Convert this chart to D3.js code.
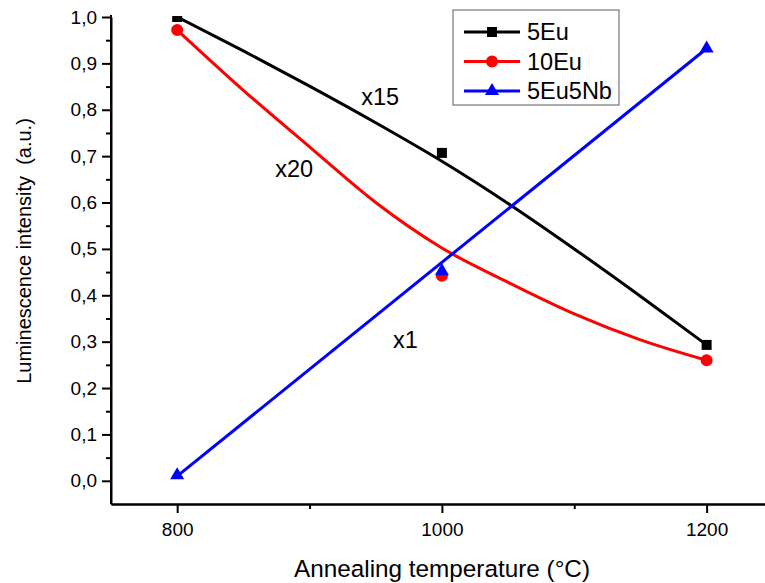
<!DOCTYPE html>
<html>
<head>
<meta charset="utf-8">
<script src="https://cdn.jsdelivr.net/npm/d3@7"></script>
<style>
  body { margin: 0; background: #fff; }
  text { font-family: Arial, "Liberation Sans", sans-serif; fill: #000; }
</style>
</head>
<body>
<div id="chart"></div>
<script>
// measured points
const temps = [800, 1000, 1200];
const eu5 = [1.0, 0.707, 0.293];
const eu10 = [0.972, 0.442, 0.26];
const eu5nb = [0.012, 0.452, 0.932];

// fitted curves
const fitTemps = [800, 850, 900, 950, 1000, 1050, 1100, 1150, 1200];
const eu5Fit = [1.0, 0.927, 0.851, 0.772, 0.689, 0.598, 0.5, 0.398, 0.293];
const eu10Fit = [0.972, 0.842, 0.72, 0.6, 0.502, 0.428, 0.36, 0.304, 0.26];
const nbFitTemps = [800, 1200];
const eu5nbFit = [0.01, 0.932];

const seriesNames = ["5Eu", "10Eu", "5Eu5Nb"];
const xTicks = [800, 1000, 1200];
const xMinorTicks = [900, 1100];
const yTicks = [0, 0.1, 0.2, 0.3, 0.4, 0.5, 0.6, 0.7, 0.8, 0.9, 1.0];
const yMinorTicks = [0.05, 0.15, 0.25, 0.35, 0.45, 0.55, 0.65, 0.75, 0.85, 0.95];

// scale factors written on the plot
const notes = [
  { text: "x15", t: 939, v: 0.81 },
  { text: "x20", t: 874, v: 0.655 },
  { text: "x1", t: 963, v: 0.286 }
];

const width = 765, height = 583;

const svg = d3
  .select("#chart")
  .append("svg")
  .attr("width", width)
  .attr("height", height);

const x = d3.scaleLinear().domain([750, 1250]).range([111, 772.8]);
const y = d3.scaleLinear().domain([-0.05, 1.0]).range([504, 17]);

const series = [
  { name: seriesNames[0], color: "#000000", symbol: d3.symbolSquare, size: 100,
    pts: temps.map((t, i) => [t, eu5[i]]), fit: fitTemps.map((t, i) => [t, eu5Fit[i]]) },
  { name: seriesNames[1], color: "#ff0000", symbol: d3.symbolCircle, size: 113,
    pts: temps.map((t, i) => [t, eu10[i]]), fit: fitTemps.map((t, i) => [t, eu10Fit[i]]) },
  { name: seriesNames[2], color: "#0000ff", symbol: d3.symbolTriangle, size: 85,
    pts: temps.map((t, i) => [t, eu5nb[i]]), fit: nbFitTemps.map((t, i) => [t, eu5nbFit[i]]) }
];

svg.append("clipPath")
  .attr("id", "plot-clip")
  .append("rect")
  .attr("x", 111)
  .attr("y", 16)
  .attr("width", width - 111)
  .attr("height", 504 - 16);

// axes
const fmt = (d) => d3.format(".1f")(d).replace(".", ",");

const yMinor = svg.append("g")
  .attr("transform", "translate(111,0)")
  .call(d3.axisLeft(y).tickValues(yMinorTicks).tickSize(5).tickSizeOuter(0).tickFormat(""));
const yMajor = svg.append("g")
  .attr("transform", "translate(111,0)")
  .call(d3.axisLeft(y).tickValues(yTicks).tickSize(9).tickSizeOuter(0).tickPadding(5).tickFormat(fmt));

const xMinor = svg.append("g")
  .attr("transform", "translate(0,504)")
  .call(d3.axisBottom(x).tickValues(xMinorTicks).tickSize(5).tickSizeOuter(0).tickFormat(""));
const xMajor = svg.append("g")
  .attr("transform", "translate(0,504)")
  .call(d3.axisBottom(x).tickValues(xTicks).tickSize(9).tickSizeOuter(0).tickPadding(10).tickFormat(d3.format("d")));

[yMinor, yMajor, xMinor, xMajor].forEach((g) => {
  g.selectAll("path, line").attr("stroke", "#000").attr("stroke-width", 2);
  g.selectAll("text")
    .style("font-family", "Arial, 'Liberation Sans', sans-serif")
    .style("font-size", "19px")
    .attr("fill", "#000");
});
yMajor.select(".domain").attr("d", "M0,504V15");

// axis titles
svg.append("text")
  .attr("x", 442)
  .attr("y", 577)
  .attr("text-anchor", "middle")
  .style("font-size", "24.3px")
  .text("Annealing temperature (\u00B0C)");

svg.append("text")
  .attr("transform", "translate(31,251) rotate(-90)")
  .attr("text-anchor", "middle")
  .style("font-size", "20px")
  .style("white-space", "pre")
  .attr("xml:space", "preserve")
  .text("Luminescence intensity  (a.u.)");

// curves and markers
const plot = svg.append("g").attr("clip-path", "url(#plot-clip)");

const line = d3.line()
  .x((d) => x(d[0]))
  .y((d) => y(d[1]))
  .curve(d3.curveMonotoneX);

series.forEach((s) => {
  plot.append("path")
    .datum(s.fit)
    .attr("fill", "none")
    .attr("stroke", s.color)
    .attr("stroke-width", 3)
    .attr("d", line);

  plot.selectAll(null)
    .data(s.pts)
    .enter()
    .append("path")
    .attr("transform", (d) => `translate(${x(d[0])},${y(d[1])})`)
    .attr("d", d3.symbol().type(s.symbol).size(s.size))
    .attr("fill", s.color);
});

// notes
svg.selectAll(".note")
  .data(notes)
  .enter()
  .append("text")
  .attr("class", "note")
  .attr("x", (d) => x(d.t))
  .attr("y", (d) => y(d.v))
  .style("font-size", "23.5px")
  .text((d) => d.text);

// legend
const legend = svg.append("g").attr("transform", "translate(453,10)");
legend.append("rect")
  .attr("width", 166)
  .attr("height", 95)
  .attr("fill", "#fff")
  .attr("stroke", "#777")
  .attr("stroke-width", 1.2);

const item = legend.selectAll(".item")
  .data(series)
  .enter()
  .append("g")
  .attr("transform", (d, i) => `translate(0,${22 + i * 29.5})`);

item.append("line")
  .attr("x1", 11)
  .attr("x2", 67)
  .attr("stroke", (d) => d.color)
  .attr("stroke-width", 3);

item.append("path")
  .attr("transform", "translate(39,0)")
  .attr("d", (d) => d3.symbol().type(d.symbol).size(d.size)())
  .attr("fill", (d) => d.color);

item.append("text")
  .attr("x", 74)
  .attr("dy", "0.36em")
  .style("font-size", "23.5px")
  .text((d) => d.name);
</script>
</body>
</html>
